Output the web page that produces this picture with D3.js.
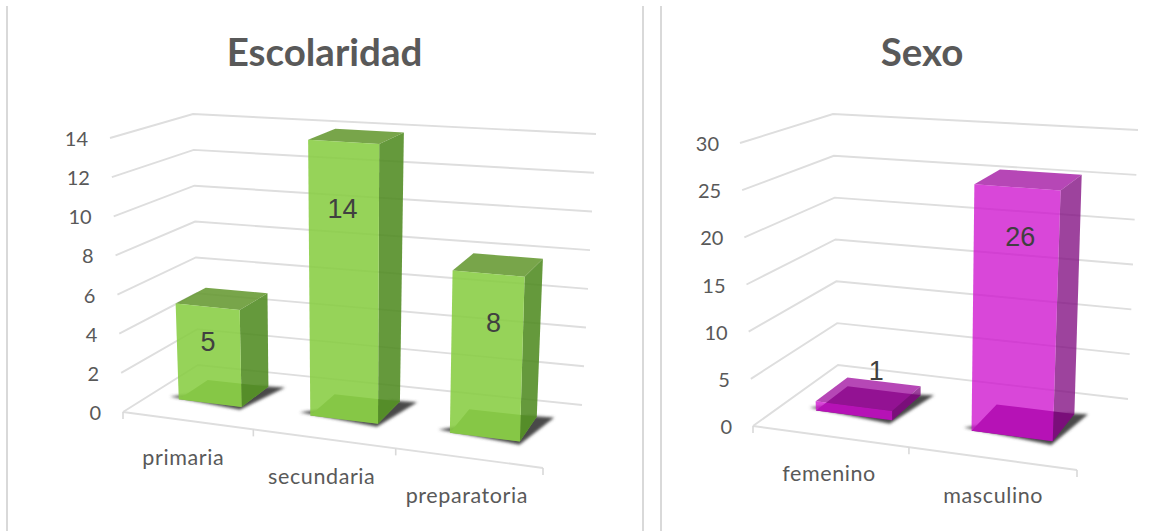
<!DOCTYPE html>
<html>
<head>
<meta charset="utf-8">
<script src="https://cdn.jsdelivr.net/npm/d3@7"></script>
<style>
  html, body { margin: 0; padding: 0; background: #fff; overflow: hidden; }
  text { font-family: Lato, "Open Sans", sans-serif; }
</style>
</head>
<body>
<div id="chart"></div>
<script>
const escolaridadCategories = ['primaria', 'secundaria', 'preparatoria']
const escolaridadValues = [5, 14, 8]
const escolaridadTicks = [0, 2, 4, 6, 8, 10, 12, 14]

const sexoCategories = ['femenino', 'masculino']
const sexoValues = [1, 26]
const sexoTicks = [0, 5, 10, 15, 20, 25, 30]

const width = 1172
const height = 531

const svg = d3.select('#chart')
  .append('svg')
  .attr('width', width)
  .attr('height', height)

const defs = svg.append('defs')
defs.append('filter').attr('id', 'soft')
  .attr('x', '-20%').attr('y', '-20%').attr('width', '140%').attr('height', '140%')
  .append('feGaussianBlur').attr('stdDeviation', 1.6)
defs.append('filter').attr('id', 'line-soft')
  .attr('filterUnits', 'userSpaceOnUse')
  .attr('x', 0).attr('y', 0).attr('width', width).attr('height', height)
  .append('feGaussianBlur').attr('stdDeviation', 0.5)

// panel borders
svg.selectAll('line.border')
  .data([7, 643, 661])
  .enter()
  .append('line')
  .attr('class', 'border')
  .attr('x1', d => d).attr('x2', d => d)
  .attr('y1', 6).attr('y2', height)
  .attr('stroke', '#d9d9d9')
  .attr('stroke-width', 2)

// corners go front-left, front-right, back-right, back-left
function quadMap(c) {
  return (u, w) => [0, 1].map(k => {
    const front = c[0][k] + (c[1][k] - c[0][k]) * u
    const back = c[3][k] + (c[2][k] - c[3][k]) * u
    return front + (back - front) * w
  })
}

function drawChart(o) {
  const g = svg.append('g')
  const floor = quadMap(o.floor)
  const ceiling = quadMap(o.ceiling)
  const vScale = d3.scaleLinear().domain([0, o.max]).range([0, 1])
  const uScale = d3.scaleBand().domain(o.categories).range([0, 1]).paddingInner(o.padding).paddingOuter(o.padding / 2)
  // the categories get wider towards the viewer
  const uWarp = d3.scalePow().exponent(o.warp).domain([0, 1]).range([0, 1])

  const project = (u, w, v) => {
    const a = floor(uWarp(u), w), b = ceiling(uWarp(u), w), t = vScale(v)
    return [a[0] + (b[0] - a[0]) * t, a[1] + (b[1] - a[1]) * t]
  }
  const line = d3.line()
  const polygon = pts => line(pts) + 'Z'

  g.append('text')
    .attr('x', o.titleX).attr('y', 66)
    .attr('text-anchor', 'middle')
    .attr('font-size', 38.5)
    .attr('font-weight', 700)
    .attr('fill', '#595959')
    .text(o.title)

  // gridlines on the two walls
  g.append('g').attr('filter', 'url(#line-soft)')
    .selectAll('path')
    .data(o.ticks)
    .enter()
    .append('path')
    .attr('d', d => line([project(0, 0, d), project(0, 1, d), project(1, 1, d)]))
    .attr('fill', 'none')
    .attr('stroke', '#dedede')
    .attr('stroke-width', 1.9)

  // front floor edge with its ticks
  const edge = g.append('g').attr('filter', 'url(#line-soft)')
  edge.append('path')
    .attr('d', line([project(0, 0, 0), project(1, 0, 0)]))
    .attr('fill', 'none')
    .attr('stroke', '#dedede')
    .attr('stroke-width', 1.9)
  d3.range(o.categories.length + 1).forEach(i => {
    const p = project(i / o.categories.length, 0, 0)
    edge.append('line')
      .attr('x1', p[0]).attr('x2', p[0])
      .attr('y1', p[1]).attr('y2', p[1] + 7)
      .attr('stroke', '#d9d9d9')
      .attr('stroke-width', 1.6)
  })

  // value axis labels
  g.selectAll('text.tick')
    .data(o.ticks)
    .enter()
    .append('text')
    .attr('class', 'tick')
    .attr('x', d => project(0, 0, d)[0] - o.tickGap)
    .attr('y', d => project(0, 0, d)[1] + 8)
    .attr('text-anchor', 'end')
    .attr('font-size', 20)
    .attr('fill', '#595959')
    .text(d => d)

  // category labels
  g.selectAll('text.category')
    .data(o.categories)
    .enter()
    .append('text')
    .attr('class', 'category')
    .attr('x', d => project(uScale(d) + uScale.bandwidth() / 2, 0, 0)[0] + o.catDx)
    .attr('y', d => project(uScale(d) + uScale.bandwidth() / 2, 0, 0)[1] + 45)
    .attr('text-anchor', 'middle')
    .attr('font-size', 21.5)
    .attr('letter-spacing', 0.6)
    .attr('fill', '#595959')
    .text(d => d)

  // bars
  const wFront = o.depth[0], wBack = o.depth[1]
  o.categories.forEach((cat, i) => {
    const value = o.values[i]
    const u0 = uScale(cat), u1 = u0 + uScale.bandwidth()
    const bar = g.append('g')

    bar.append('path')
      .attr('d', polygon([
        project(u0 - 0.03, wFront + 0.03, 0),
        project(u1 + 0.004, wFront - 0.05, 0),
        project(u1 + 0.04, wBack + 0.02, 0),
        project(u1 - 0.02, wBack, 0)
      ]))
      .attr('fill', '#4a4a4a')
      .attr('filter', 'url(#soft)')

    // bottom first, then top and the visible sides, all see-through
    bar.append('path')
      .attr('d', polygon([project(u0, wFront, 0), project(u1, wFront, 0), project(u1, wBack, 0), project(u0, wBack, 0)]))
      .attr('fill', o.colors.bottom)
    bar.append('path')
      .attr('d', polygon([project(u1, wFront, 0), project(u1, wBack, 0), project(u1, wBack, value), project(u1, wFront, value)]))
      .attr('fill', o.colors.side)
      .attr('fill-opacity', o.colors.opacity)
    bar.append('path')
      .attr('d', polygon([project(u0, wFront, value), project(u1, wFront, value), project(u1, wBack, value), project(u0, wBack, value)]))
      .attr('fill', o.colors.top)
      .attr('fill-opacity', o.colors.opacity)
    bar.append('path')
      .attr('d', polygon([project(u0, wFront, 0), project(u1, wFront, 0), project(u1, wFront, value), project(u0, wFront, value)]))
      .attr('fill', o.colors.front)
      .attr('fill-opacity', o.colors.opacity)

    const labelAt = project((u0 + u1) / 2, wFront, value)
    bar.append('text')
      .attr('x', labelAt[0] + o.labelOffsets[i][0])
      .attr('y', labelAt[1] + o.labelOffsets[i][1] + 10)
      .attr('text-anchor', 'middle')
      .attr('font-size', 27)
      .style('font-family', '"Liberation Sans", Arial, sans-serif')
      .attr('fill', '#404040')
      .text(value)
  })
}

drawChart({
  title: 'Escolaridad',
  titleX: 324.5,
  categories: escolaridadCategories,
  values: escolaridadValues,
  ticks: escolaridadTicks,
  max: 14,
  floor: [[123, 412], [543, 468], [582, 405], [198, 365]],
  ceiling: [[110, 138], [551, 167], [596, 134], [193, 114]],
  warp: 1.065,
  padding: 0.51,
  depth: [0.35, 0.75],
  tickGap: 22,
  catDx: -2,
  labelOffsets: [[1, 34], [-1, 66], [5, 48]],
  colors: { front: '#88cd42', top: '#659931', side: '#508b21', bottom: '#7f9f60', opacity: 0.88 }
})

drawChart({
  title: 'Sexo',
  titleX: 922,
  categories: sexoCategories,
  values: sexoValues,
  ticks: sexoTicks,
  max: 30,
  floor: [[753, 426], [1077, 470], [1128, 399], [838, 365]],
  ceiling: [[740, 143], [1090, 167], [1138, 130], [833, 114]],
  warp: 1.055,
  padding: 0.5,
  depth: [0.33, 0.72],
  tickGap: 21,
  catDx: 1,
  labelOffsets: [[23, -36], [3, 49]],
  colors: { front: '#ce10ce', top: '#a010a0', side: '#800a80', bottom: '#6a1a6a', opacity: 0.77 }
})
</script>
</body>
</html>
